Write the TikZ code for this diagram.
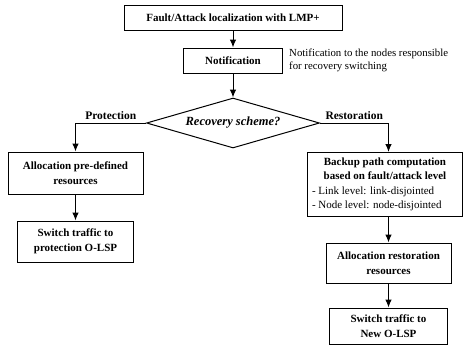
\documentclass[tikz,border=0pt]{standalone}
\usepackage{fontspec}
\setmainfont{Liberation Serif}
\usetikzlibrary{positioning,shapes.geometric,arrows.meta}
\tikzstyle{block} = [draw, rectangle, line width=1pt, inner sep=2pt, align=center, font=\bfseries\fontsize{11}{14.5}\selectfont]
\tikzstyle{decision} = [draw, diamond, aspect=3.46, line width=1pt, inner sep=0pt, minimum width=173pt, minimum height=50pt, font=\bfseries\itshape\fontsize{12.5}{14}\selectfont]
\tikzstyle{note} = [align=left, inner sep=0pt, font=\fontsize{10.8}{13}\selectfont]
\tikzstyle{lbl} = [font=\bfseries\fontsize{11.5}{13}\selectfont]
\tikzstyle{to} = [->,>={Latex[length=8pt,width=6.5pt]},line width=1pt]

\begin{document}
\begin{tikzpicture}[x=1pt, y=-1pt]
	\useasboundingbox (0,0) rectangle (474,351);
	\node (loc) [block, minimum width=218pt, minimum height=25pt] at (233,18) {Fault/Attack localization with LMP+};
	\node (notif) [block, below of=loc, node distance=42.5pt, minimum width=99pt, minimum height=25pt] {Notification};
	\node (notifnote) [note, right=6pt of notif] {Notification to the nodes responsible\\for recovery switching};
	\node (scheme) [decision, below of=notif, node distance=62.5pt] {Recovery scheme?};
	% protection branch
	\node (predef) [block, minimum width=135pt, minimum height=42pt] at (75.5,173) {Allocation pre-defined\\resources};
	\node (protsw) [block, below of=predef, node distance=68.5pt, minimum width=116pt, minimum height=41pt] {Switch traffic to\\protection O-LSP};
	% restoration branch
	\node (backup) [block, minimum width=155pt, minimum height=64pt, align=left] at (385,184.5) {\makebox[146pt]{Backup path computation}\\\makebox[146pt]{based on fault/attack level}\\\mdseries - Link level: link-disjointed\\\mdseries - Node level: node-disjointed};
	\node (restalloc) [block, below of=backup, node distance=78.5pt, xshift=3.5pt, minimum width=125pt, minimum height=40pt] {Allocation restoration\\resources};
	\node (newsw) [block, below of=restalloc, node distance=63pt, minimum width=118pt, minimum height=36pt] {Switch traffic to\\New O-LSP};
	\draw [to] (loc) -- (notif);
	\draw [to] (notif) -- (scheme);
	\draw [to] (scheme.west) -| node [lbl, pos=0.25, above] {Protection} (predef.north);
	\draw [to] (scheme.east) -| node [lbl, pos=0.25, above] {Restoration} (restalloc.north |- backup.north);
	\draw [to] (predef) -- (protsw);
	\draw [to] (restalloc.north |- backup.south) -- (restalloc);
	\draw [to] (restalloc) -- (newsw);
\end{tikzpicture}
\end{document}
